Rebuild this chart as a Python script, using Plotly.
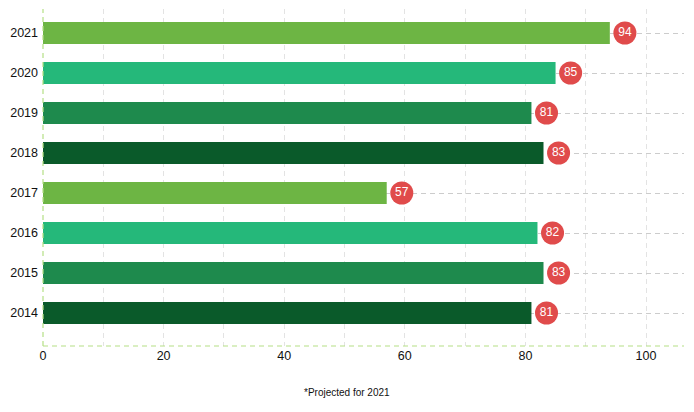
import plotly.graph_objects as go

years = ["2014", "2015", "2016", "2017", "2018", "2019", "2020", "2021"]
values = [81, 83, 82, 57, 83, 81, 85, 94]
labels = ["81", "83", "82", "57", "83", "81", "85", "94"]
colors = ["#0a5a2a", "#1e8a4d", "#25b87a", "#6db544", "#0a5a2a", "#1e8a4d", "#25b87a", "#6db544"]
x_ticks = [0, 20, 40, 60, 80, 100]
footnote = "*Projected for 2021"

FONT = "Liberation Sans, Arial, sans-serif"
DASH = "5px,4px"

fig = go.Figure()
fig.add_trace(go.Bar(
    y=years, x=values, orientation="h",
    marker=dict(color=colors, line=dict(width=0)),
    width=0.55, hoverinfo="skip", showlegend=False,
))
fig.add_trace(go.Scatter(
    y=years, x=[v + 2.5 for v in values], mode="markers+text",
    marker=dict(size=23, color="#e04b4b", line=dict(width=0)),
    text=labels, textposition="middle center",
    textfont=dict(color="white", size=12, family=FONT),
    hoverinfo="skip", showlegend=False, cliponaxis=False,
))

fig.update_layout(
    width=686, height=404,
    margin=dict(l=35, r=10, t=1, b=66, autoexpand=False),
    paper_bgcolor="white", plot_bgcolor="white",
    font=dict(family=FONT, size=12, color="#111111"),
    xaxis=dict(
        range=[0, 106.3], tickvals=x_ticks, ticks="", showline=False,
        zeroline=False, showgrid=True, gridcolor="#e3e3e3", griddash=DASH,
        gridwidth=1, automargin=False,
        minor=dict(dtick=10, tick0=0, showgrid=True, gridcolor="#e3e3e3", griddash=DASH),
        tickfont=dict(size=12.5, color="#111111"),
    ),
    yaxis=dict(
        type="category", categoryorder="array", categoryarray=years,
        range=[-0.825, 7.6], ticks="", showline=False, zeroline=False,
        showgrid=True, gridcolor="#cccccc", griddash=DASH, gridwidth=1,
        automargin=False,
        tickfont=dict(size=12.5, color="#111111"), ticklabelstandoff=4,
    ),
    shapes=[
        dict(type="line", xref="paper", yref="paper", x0=0, x1=1, y0=0, y1=0,
             line=dict(color="#b5df85", width=1.2, dash=DASH), layer="above"),
        dict(type="line", xref="paper", yref="paper", x0=0, x1=0, y0=0, y1=1,
             line=dict(color="#b5df85", width=1.2, dash=DASH), layer="above"),
    ],
    annotations=[
        dict(text=footnote, xref="paper", yref="paper", x=0.474, y=-0.139,
             showarrow=False, xanchor="center", yanchor="middle",
             font=dict(size=10, color="#111111", family=FONT)),
    ],
)

fig.write_html("out.html")
